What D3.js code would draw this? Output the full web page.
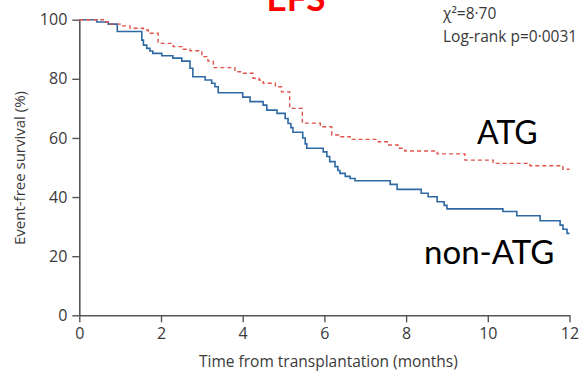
<!DOCTYPE html>
<html>
<head>
<meta charset="utf-8">
<script src="https://cdn.jsdelivr.net/npm/d3@7"></script>
<style>
  html, body { margin: 0; padding: 0; background: #fff; }
  svg { display: block; }
</style>
</head>
<body>
<script>
// Kaplan–Meier event-free survival, ATG vs non-ATG
const xTicks = [0, 2, 4, 6, 8, 10, 12];
const yTicks = [0, 20, 40, 60, 80, 100];

const atgTimes = [0, 0.59, 0.75, 1.0, 1.24, 1.57, 1.69, 1.93, 2.30, 2.51, 2.71, 3.0, 3.15, 3.28, 3.81, 4.0, 4.25, 4.4, 4.5, 4.8, 4.95, 5.15, 5.46, 5.9, 6.18, 6.35, 6.63, 7.32, 7.54, 7.8, 7.97, 8.76, 9.44, 10.13, 11.03, 11.84, 12];
const atgSurv  = [100, 99.2, 98.5, 97.9, 97.1, 96.5, 95.4, 92, 90.9, 90, 89.5, 87.5, 86, 83.8, 82.4, 81.9, 80.2, 79.6, 78.5, 77.3, 75.6, 70, 65, 63.8, 61, 60.4, 59.5, 58.7, 57.6, 56.5, 55.6, 54.6, 52.5, 51.4, 50.6, 49.4, 49.4];

const nonAtgTimes = [0, 0.43, 0.71, 0.93, 1.53, 1.57, 1.65, 1.73, 1.80, 2.02, 2.29, 2.51, 2.71, 2.78, 3.08, 3.24, 3.32, 3.40, 4.0, 4.18, 4.50, 4.59, 4.84, 5.04, 5.11, 5.18, 5.23, 5.47, 5.53, 5.57, 5.97, 6.06, 6.13, 6.26, 6.33, 6.38, 6.51, 6.63, 6.75, 7.61, 7.78, 8.37, 8.54, 8.76, 8.93, 9.0, 10.37, 10.71, 11.28, 11.77, 11.84, 11.94, 12];
const nonAtgSurv  = [100, 99.2, 98.5, 96, 93.1, 91.4, 90.3, 89.4, 88.6, 87.8, 87, 86, 83.6, 80.7, 79.6, 78.5, 77.3, 75.3, 73.8, 72.3, 71.1, 69.4, 68.3, 66.6, 64.9, 63.5, 61.9, 60, 58, 56.5, 55.3, 53.7, 52, 50.3, 49, 48, 47, 46.3, 45.5, 44.3, 42.6, 41.3, 40.1, 38.4, 37.2, 36, 35.1, 33.7, 32, 30.5, 29.1, 27.7, 27.7];

const W = 580, H = 372;
const margin = { left: 79.3, right: 10.5, top: 19.7, bottom: 56.7 };

const svg = d3.select("body").append("svg")
  .attr("width", W).attr("height", H);

const x = d3.scaleLinear().domain([0, 12]).range([margin.left, W - margin.right]);
const y = d3.scaleLinear().domain([0, 100]).range([H - margin.bottom, margin.top]);

const axisFont = "'Open Sans', 'Noto Sans', sans-serif";
const axisColor = "#555";

// axes
const gx = svg.append("g")
  .attr("transform", `translate(0,${y(0)})`)
  .call(d3.axisBottom(x).tickValues(xTicks).tickSize(7).tickSizeOuter(0).tickPadding(5));
const gy = svg.append("g")
  .attr("transform", `translate(${x(0)},0)`)
  .call(d3.axisLeft(y).tickValues(yTicks).tickSize(7).tickSizeOuter(0).tickPadding(5));

[gx, gy].forEach(g => {
  g.select(".domain").attr("stroke", axisColor).attr("stroke-width", 1.6);
  g.selectAll(".tick line").attr("stroke", axisColor).attr("stroke-width", 1.4);
  g.selectAll(".tick text")
    .attr("fill", "#3a3a3a")
    .style("font-family", axisFont)
    .style("font-size", "16px");
});

// survival curves
const stepLine = d3.line()
  .x(d => x(d[0]))
  .y(d => y(d[1]))
  .curve(d3.curveStepAfter);

svg.append("path")
  .datum(nonAtgTimes.map((t, i) => [t, nonAtgSurv[i]]))
  .attr("fill", "none")
  .attr("stroke", "#2f69a3")
  .attr("stroke-width", 1.6)
  .attr("d", stepLine);

svg.append("path")
  .datum(atgTimes.map((t, i) => [t, atgSurv[i]]))
  .attr("fill", "none")
  .attr("stroke", "#e0534a")
  .attr("stroke-width", 1.4)
  .attr("stroke-dasharray", "4,3")
  .attr("d", stepLine);

// axis titles
svg.append("text")
  .attr("x", 199).attr("y", 367)
  .attr("text-anchor", "start")
  .style("font-family", axisFont)
  .style("font-size", "15.5px")
  .attr("fill", "#3a3a3a")
  .text("Time from transplantation (months)");

svg.append("text")
  .attr("transform", "translate(25,168) rotate(-90)")
  .attr("text-anchor", "middle")
  .style("font-family", axisFont)
  .style("font-size", "15px")
  .attr("fill", "#3a3a3a")
  .text("Event-free survival (%)");

// test statistics
const stats = svg.append("text")
  .style("font-family", axisFont)
  .style("font-size", "15.5px")
  .attr("fill", "#3a3a3a");
stats.append("tspan").attr("x", 443).attr("y", 19).text("χ²=8·70");
stats.append("tspan").attr("x", 443).attr("y", 42).text("Log-rank p=0·0031");

// group labels and title
const labelFont = "Lato, 'Open Sans', sans-serif";
svg.append("text")
  .attr("x", 477).attr("y", 144)
  .style("font-family", labelFont).style("font-size", "32px")
  .attr("fill", "#000")
  .text("ATG");
svg.append("text")
  .attr("x", 424).attr("y", 264)
  .style("font-family", labelFont).style("font-size", "33px")
  .attr("fill", "#000")
  .text("non-ATG");

svg.append("text")
  .attr("x", 296).attr("y", 11)
  .attr("text-anchor", "middle")
  .style("font-family", labelFont).style("font-size", "35px").style("font-weight", "bold")
  .attr("fill", "#ff0000")
  .text("EFS");
</script>
</body>
</html>
